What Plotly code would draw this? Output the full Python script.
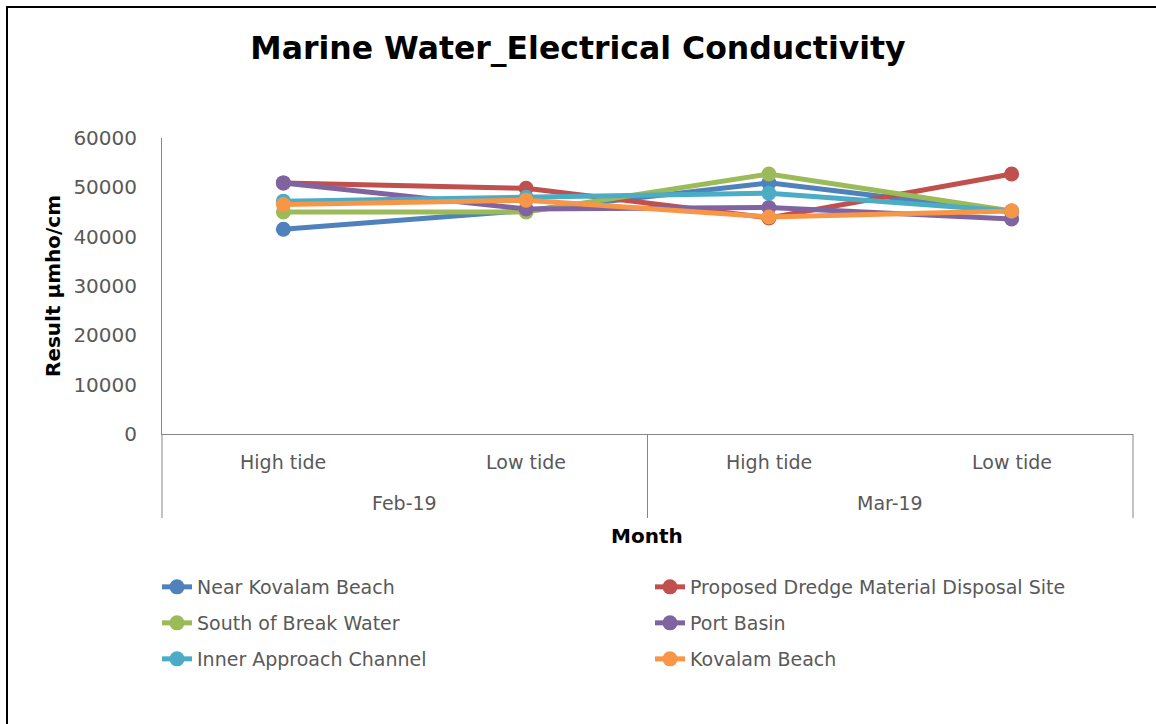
import plotly.graph_objects as go

# Sampling months and tide states (two-level category axis)
months = ["Feb-19", "Feb-19", "Mar-19", "Mar-19"]
tides = ["High tide", "Low tide", "High tide", "Low tide"]
month_labels = ["Feb-19", "Mar-19"]

# Electrical conductivity results (µmho/cm) per station
near_kovalam_beach = [41500, 45300, 50900, 45000]
dredge_disposal_site = [50900, 49800, 43800, 52700]
south_of_break_water = [45000, 45000, 52700, 45200]
port_basin = [50900, 45600, 45900, 43600]
inner_approach_channel = [47200, 48000, 48800, 45200]
kovalam_beach = [46500, 47400, 44000, 45200]

series = [
    ("Near Kovalam Beach", near_kovalam_beach, "#4F81BD"),
    ("Proposed Dredge Material Disposal Site", dredge_disposal_site, "#C0504D"),
    ("South of Break Water", south_of_break_water, "#9BBB59"),
    ("Port Basin", port_basin, "#8064A2"),
    ("Inner Approach Channel", inner_approach_channel, "#4BACC6"),
    ("Kovalam Beach", kovalam_beach, "#F79646"),
]

W, H = 1156, 724
L, R, T, B = 162, 23, 138, 290
pw, ph = W - L - R, H - T - B


def px_x(p):
    return (p - L) / pw


def px_y(p):
    return (H - B - p) / ph


axis_gray = "#868686"
text_gray = "#595959"
font_family = "DejaVu Sans"

# legend grid: two columns, three rows; one legend box per entry
legend_cols = [157, 650]
legend_rows = [587, 623, 659]

fig = go.Figure()
for i, (name, values, color) in enumerate(series):
    fig.add_trace(go.Scatter(
        x=[months, tides],
        y=values,
        name=name,
        mode="lines+markers",
        line=dict(color=color, width=5),
        marker=dict(color=color, size=15),
        legend="legend" if i == 0 else f"legend{i + 1}",
    ))

n_cat = len(tides)
annotations = []
for i, t in enumerate(tides):
    annotations.append(dict(
        text=t, xref="paper", yref="paper",
        x=(i + 0.5) / n_cat, y=px_y(462),
        xanchor="center", yanchor="middle", showarrow=False,
        font=dict(family=font_family, size=19, color=text_gray),
    ))
for j, m in enumerate(month_labels):
    annotations.append(dict(
        text=m, xref="paper", yref="paper",
        x=(j + 0.5) / len(month_labels), y=px_y(503),
        xanchor="center", yanchor="middle", showarrow=False,
        font=dict(family=font_family, size=19, color=text_gray),
    ))
annotations.append(dict(
    text="<b>Month</b>", xref="paper", yref="paper",
    x=px_x(647), y=px_y(536), xanchor="center", yanchor="middle",
    showarrow=False, font=dict(family=font_family, size=20, color="black"),
))
annotations.append(dict(
    text="<b>Result µmho/cm</b>", xref="paper", yref="paper",
    x=px_x(53), y=px_y(286), xanchor="center", yanchor="middle",
    textangle=-90, showarrow=False,
    font=dict(family=font_family, size=20, color="black"),
))

shapes = [dict(
    type="rect", xref="paper", yref="paper",
    x0=px_x(7), x1=px_x(W + 10), y0=px_y(H + 10), y1=px_y(7),
    line=dict(color="black", width=2), fillcolor="rgba(0,0,0,0)",
    layer="below",
)]
# group dividers below the category axis
for k in range(len(month_labels) + 1):
    xd = k / len(month_labels)
    shapes.append(dict(
        type="line", xref="paper", yref="paper",
        x0=xd, x1=xd, y0=0, y1=px_y(518),
        line=dict(color=axis_gray, width=1),
    ))

legend_common = dict(
    orientation="v", xanchor="left", yanchor="middle",
    font=dict(family=font_family, size=19, color=text_gray),
    bgcolor="rgba(0,0,0,0)", itemwidth=30,
)

layout_legends = {}
for i in range(len(series)):
    key = "legend" if i == 0 else f"legend{i + 1}"
    layout_legends[key] = dict(
        legend_common,
        x=px_x(legend_cols[i % 2]),
        y=px_y(legend_rows[i // 2]),
    )

fig.update_layout(
    width=W,
    height=H,
    margin=dict(l=L, r=R, t=T, b=B),
    paper_bgcolor="white",
    plot_bgcolor="white",
    font=dict(family=font_family, color=text_gray),
    title=dict(
        text="<b>Marine Water_Electrical Conductivity</b>",
        x=0.5, xanchor="center",
        y=1 - 48 / H, yanchor="middle", yref="container",
        font=dict(family=font_family, size=31.5, color="black"),
    ),
    xaxis=dict(
        type="multicategory",
        range=[-0.5, n_cat - 0.5],
        showline=True, linecolor=axis_gray, linewidth=1,
        showgrid=False, ticks="", showticklabels=False,
        showdividers=False,
    ),
    yaxis=dict(
        range=[0, 60000], dtick=10000, tickformat="d",
        showline=True, linecolor=axis_gray, linewidth=1,
        showgrid=False, zeroline=False, ticks="",
        ticklabelstandoff=20,
        tickfont=dict(family=font_family, size=20, color=text_gray),
    ),
    showlegend=True,
    annotations=annotations,
    shapes=shapes,
    **layout_legends,
)

fig.write_html("out.html")
